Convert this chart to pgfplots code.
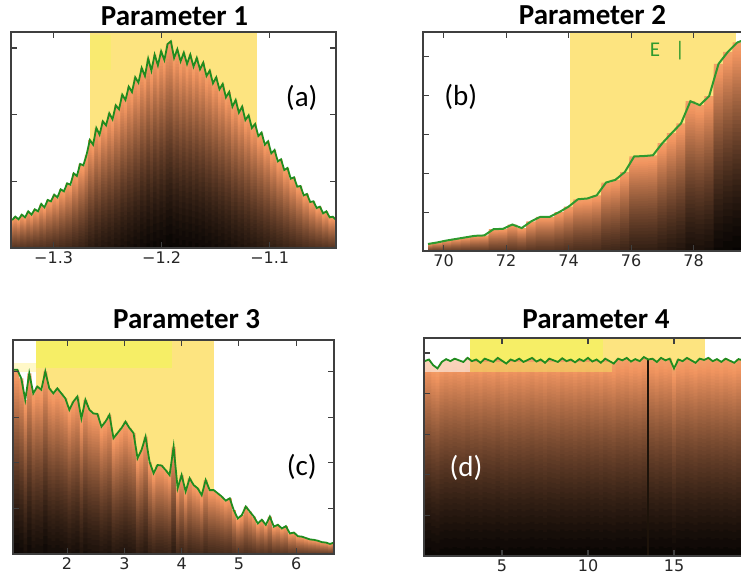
\documentclass[border=0pt]{standalone}
\usepackage{fontspec}
\setmainfont{Carlito}
\newfontfamily\tickfont{DejaVu Sans}
\usepackage{pgfplots}
\pgfplotsset{compat=1.18}
\usepackage{pgfplotstable}

\definecolor{spanyellow}{HTML}{FDE480}
\definecolor{brightyellow}{HTML}{F6EE66}
\definecolor{paleyellow}{HTML}{FFF8C8}
\definecolor{linegreen}{HTML}{1F8C1F}
\definecolor{lightgreen}{HTML}{2E9A2E}
\definecolor{framegray}{HTML}{3F3F3F}

\pgfplotsforeachungrouped \k in {0,...,45}{%
  \pgfmathsetmacro\ct{0.92-0.02*\k}%
  \pgfmathsetmacro\cr{min(0.95,1.1*\ct)}%
  \pgfmathsetmacro\cg{0.68*\ct}%
  \pgfmathsetmacro\cb{0.44*\ct}%
  \definecolor{cu\k}{rgb}{\cr,\cg,\cb}%
}

% #1 table, #2 pixels per y unit
\newcommand\gradbars[2]{%
  \pgfplotsinvokeforeach{0,...,45}{%
    \addplot[const plot mark mid, draw=none, fill=cu##1, forget plot]
      table[x=x, y expr={max(\thisrow{h}*(1-(1-pow((0.92-0.02*##1)/0.92,0.6))/min(0.95,0.42+0.45*\thisrow{h}*#2/190)),0)}] {#1} \closedcycle;
  }%
}

\pgfplotsset{
  panel/.style={
    scale only axis, anchor=south west, axis on top,
    axis line style={framegray, line width=1.3pt},
    tick style={framegray, line width=1.1pt},
    major tick length=6pt,
    tick align=inside,
    yticklabels={},
    xticklabel style={font=\tickfont\fontsize{16}{19}\selectfont, text=black!85},
  },
  gline/.style={linegreen, line width=1.8pt, mark=none, forget plot},
}

\pgfplotstableread{
x h
-1.3385 0.42
-1.3355 0.47
-1.3325 0.43
-1.3295 0.50
-1.3265 0.46
-1.3235 0.55
-1.3205 0.50
-1.3175 0.58
-1.3145 0.55
-1.3115 0.66
-1.3085 0.61
-1.3055 0.72
-1.3025 0.70
-1.2995 0.80
-1.2965 0.76
-1.2935 0.88
-1.2905 0.85
-1.2875 0.97
-1.2845 0.95
-1.2815 1.12
-1.2785 1.08
-1.2755 1.26
-1.2725 1.24
-1.2695 1.40
-1.2665 1.62
-1.2635 1.55
-1.2605 1.80
-1.2575 1.70
-1.2545 1.90
-1.2515 1.84
-1.2485 2.02
-1.2455 1.93
-1.2425 2.14
-1.2395 2.08
-1.2365 2.30
-1.2335 2.22
-1.2305 2.42
-1.2275 2.34
-1.2245 2.56
-1.2215 2.48
-1.2185 2.70
-1.2155 2.58
-1.2125 2.84
-1.2095 2.66
-1.2065 2.90
-1.2035 2.74
-1.2005 2.95
-1.1975 2.82
-1.1945 3.06
-1.1915 3.10
-1.1885 2.85
-1.1855 2.98
-1.1825 2.80
-1.1795 2.93
-1.1765 2.76
-1.1735 2.90
-1.1705 2.72
-1.1675 2.85
-1.1645 2.68
-1.1615 2.78
-1.1585 2.58
-1.1555 2.66
-1.1525 2.47
-1.1495 2.56
-1.1465 2.38
-1.1435 2.46
-1.1405 2.26
-1.1375 2.34
-1.1345 2.12
-1.1315 2.22
-1.1285 2.03
-1.1255 2.12
-1.1225 1.92
-1.1195 1.99
-1.1165 1.80
-1.1135 1.86
-1.1105 1.68
-1.1075 1.73
-1.1045 1.55
-1.1015 1.60
-1.0985 1.42
-1.0955 1.47
-1.0925 1.30
-1.0895 1.33
-1.0865 1.17
-1.0835 1.20
-1.0805 1.04
-1.0775 1.06
-1.0745 0.92
-1.0715 0.93
-1.0685 0.79
-1.0655 0.81
-1.0625 0.69
-1.0595 0.70
-1.0565 0.60
-1.0535 0.62
-1.0505 0.52
-1.0475 0.55
-1.0445 0.46
-1.0415 0.47
-1.0385 0.42
}\dataA

\pgfplotstableread{
x h
69.5 0.18
69.8 0.22
70.1 0.27
70.4 0.31
70.7 0.35
71.0 0.39
71.3 0.40
71.6 0.56
71.9 0.57
72.2 0.68
72.5 0.59
72.8 0.76
73.1 0.88
73.4 0.88
73.7 1.00
74.0 1.14
74.3 1.33
74.6 1.35
74.9 1.43
75.2 1.76
75.5 1.83
75.8 2.03
76.1 2.43
76.4 2.44
76.7 2.46
77.0 2.77
77.3 3.03
77.6 3.28
77.9 3.85
78.2 3.75
78.5 3.98
78.8 4.81
79.1 5.12
79.4 5.36
79.7 5.45
80.0 5.50
80.3 5.52
}\dataB

\pgfplotstableread{
x h
1.06 4.04
1.13 4.04
1.20 3.85
1.27 3.38
1.34 3.96
1.41 3.52
1.48 3.67
1.55 3.60
1.62 4.00
1.69 3.63
1.76 3.52
1.83 3.63
1.90 3.52
1.97 3.41
2.04 3.16
2.11 3.34
2.18 3.45
2.25 2.97
2.32 3.38
2.39 3.16
2.46 3.08
2.53 3.07
2.60 2.79
2.67 2.90
2.74 3.05
2.81 2.54
2.88 2.65
2.95 2.76
3.02 2.90
3.09 2.76
3.16 2.65
3.23 2.10
3.30 2.28
3.37 2.57
3.44 2.02
3.51 1.77
3.58 1.95
3.65 1.94
3.72 1.84
3.79 1.73
3.86 2.35
3.93 1.44
4.00 1.73
4.07 1.37
4.14 1.66
4.21 1.51
4.28 1.44
4.35 1.29
4.42 1.62
4.49 1.40
4.56 1.40
4.63 1.33
4.70 1.26
4.77 1.17
4.84 1.22
4.91 0.96
4.98 0.78
5.05 0.85
5.12 1.04
5.19 0.93
5.26 0.82
5.33 0.67
5.40 0.75
5.47 0.64
5.54 0.82
5.61 0.60
5.68 0.64
5.75 0.56
5.82 0.61
5.89 0.45
5.96 0.47
6.03 0.39
6.10 0.38
6.17 0.35
6.24 0.32
6.31 0.31
6.38 0.29
6.45 0.26
6.52 0.25
6.59 0.22
6.66 0.25
}\dataC

\pgfplotstableread{
x h
0.5 4.80
0.75 4.84
1.0 4.70
1.25 4.62
1.5 4.78
1.75 4.85
2.0 4.80
2.25 4.86
2.5 4.82
2.75 4.78
3.0 4.88
3.25 4.80
3.5 4.84
3.75 4.76
4.0 4.86
4.25 4.82
4.5 4.78
4.75 4.88
5.0 4.81
5.25 4.74
5.5 4.84
5.75 4.80
6.0 4.86
6.25 4.78
6.5 4.83
6.75 4.88
7.0 4.79
7.25 4.84
7.5 4.76
7.75 4.86
8.0 4.82
8.25 4.78
8.5 4.87
8.75 4.80
9.0 4.84
9.25 4.77
9.5 4.85
9.75 4.80
10.0 4.88
10.25 4.79
10.5 4.84
10.75 4.76
11.0 4.86
11.25 4.80
11.5 4.74
11.75 4.86
12.0 4.82
12.25 4.88
12.5 4.79
12.75 4.85
13.0 4.80
13.25 4.90
13.5 4.84
13.75 4.86
14.0 4.78
14.25 4.88
14.5 4.82
14.75 4.86
15.0 4.62
15.25 4.84
15.5 4.80
15.75 4.88
16.0 4.82
16.25 4.76
16.5 4.86
16.75 4.83
17.0 4.88
17.25 4.80
17.5 4.85
17.75 4.78
18.0 4.86
18.25 4.81
18.5 4.76
18.75 4.85
19.0 4.82
19.25 4.80
19.5 4.84
19.75 4.80
20.0 4.86
20.25 4.79
20.5 4.83
}\dataD

\begin{document}
\begin{tikzpicture}[x=1pt,y=1pt]
\useasboundingbox (0,0) rectangle (741,578);
\clip (0,0) rectangle (741,578);

% ---------- (a)
\begin{axis}[panel, at={(11pt,330pt)}, width=325pt, height=216pt,
  xmin=-1.3395, xmax=-1.0386, ymin=0, ymax=3.24,
  xtick={-1.3,-1.2,-1.1}, xticklabels={−1.3,−1.2,−1.1}, ytick={0,1,2,3}]
\addplot[fill=spanyellow, draw=none, forget plot] coordinates {(-1.2667,0) (-1.2667,3.3) (-1.112,3.3) (-1.112,0)};
\addplot[fill=brightyellow!60!spanyellow, draw=none, forget plot] coordinates {(-1.2667,2.67) (-1.2667,3.19) (-1.2472,3.19) (-1.2472,2.67)};
\gradbars{\dataA}{66.7}
\addplot[gline] table[x=x,y=h] {\dataA};
\end{axis}

% ---------- (b)
\begin{axis}[panel, at={(423pt,327pt)}, width=338pt, height=219pt,
  xmin=69.34, xmax=80.16, ymin=0, ymax=5.63,
  xtick={70,72,74,76,78}, xticklabels={70,72,74,76,78}, ytick={0,1,2,3,4,5}]
\addplot[fill=spanyellow, draw=none, forget plot] coordinates {(74.05,0) (74.05,5.7) (79.37,5.7) (79.37,0)};
\gradbars{\dataB}{38.9}
\addplot[gline, line width=2pt, lightgreen] table[x=x,y=h] {\dataB};
\end{axis}

% ---------- (c)
\begin{axis}[panel, at={(13pt,24pt)}, width=321pt, height=214pt,
  xmin=1.056, xmax=6.66, ymin=0, ymax=4.69,
  xtick={2,3,4,5,6}, xticklabels={2,3,4,5,6}, ytick={0,1,2,3,4}]
\addplot[fill=spanyellow, draw=none, forget plot] coordinates {(1.452,0) (1.452,4.8) (4.558,4.8) (4.558,0)};
\addplot[fill=brightyellow, draw=none, forget plot] coordinates {(1.452,4.08) (1.452,4.8) (3.836,4.8) (3.836,4.08)};
\addplot[fill=paleyellow, draw=none, forget plot] coordinates {(1.0,3.99) (1.0,4.19) (1.452,4.19) (1.452,3.99)};
\gradbars{\dataC}{45.6}
\addplot[gline] table[x=x,y=h] {\dataC};
\end{axis}

% ---------- (d)
\begin{axis}[panel, at={(424pt,22pt)}, width=344pt, height=218pt,
  xmin=0.465, xmax=20.465, ymin=0, ymax=5.37,
  xtick={5,10,15}, xticklabels={5,10,15}, ytick={0,1,2,3,4,5}]
\addplot[fill=spanyellow, draw=none, forget plot] coordinates {(3.14,0) (3.14,5.5) (16.8,5.5) (16.8,0)};
\addplot[fill=brightyellow, draw=none, forget plot] coordinates {(3.14,4.78) (3.14,5.5) (10.87,5.5) (10.87,4.78)};
\gradbars{\dataD}{40.6}
\addplot[fill=white, fill opacity=0.55, draw=none, forget plot] coordinates {(0.465,4.53) (0.465,4.85) (3.14,4.85) (3.14,4.53)};
\addplot[fill=brightyellow, fill opacity=0.45, draw=none, forget plot] coordinates {(3.14,4.53) (3.14,4.78) (11.4,4.78) (11.4,4.53)};
\addplot[black!85!brown, line width=1.6pt, forget plot] coordinates {(13.5,0) (13.5,4.82)};
\addplot[gline] table[x=x,y=h] {\dataD};
\end{axis}

% ---------- titles and labels
\tikzset{ttl/.style={anchor=base, font=\bfseries\fontsize{29}{34}\selectfont},
         lbl/.style={font=\fontsize{29}{34}\selectfont}}
\node[ttl] at (174.5,552) {Parameter 1};
\node[ttl] at (592.5,553) {Parameter 2};
\node[ttl] at (186.7,249.7) {Parameter 3};
\node[ttl] at (596,249.7) {Parameter 4};
\node[lbl] at (301.7,480.5) {(a)};
\node[lbl] at (460.7,481.3) {(b)};
\node[lbl] at (301.7,111.5) {(c)};
\node[lbl, text=white] at (466,110.5) {(d)};
\node[text=lightgreen, font=\fontsize{21}{24}\selectfont] at (655,528) {E};
\node[text=lightgreen, font=\fontsize{21}{24}\selectfont] at (680,527) {|};
\end{tikzpicture}
\end{document}
